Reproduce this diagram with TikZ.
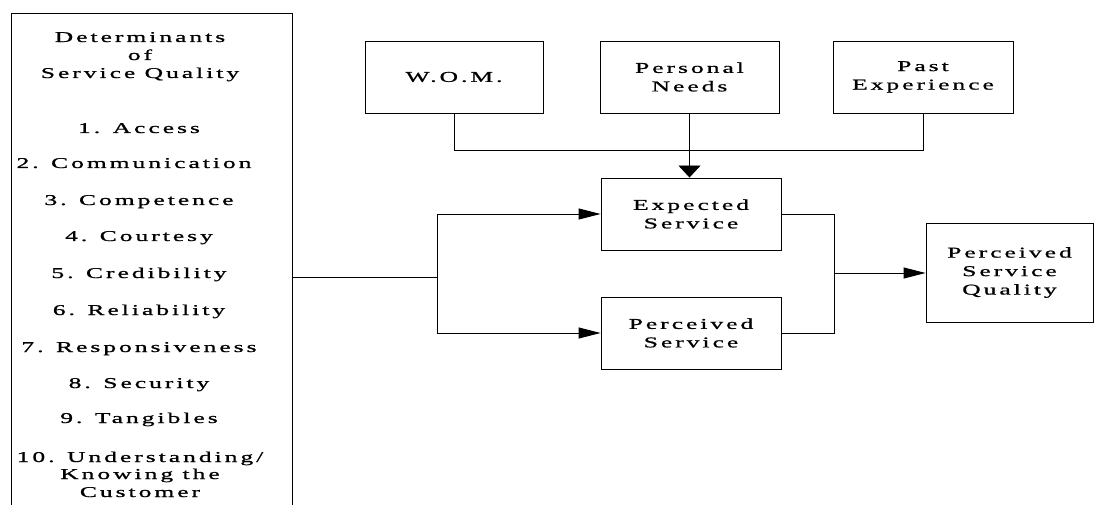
\documentclass[tikz,border=0pt]{standalone}
\usepackage{fontspec}
\setmainfont[FakeStretch=1.7,LetterSpace=20,FakeBold=1.0]{Liberation Serif}
\usetikzlibrary{arrows.meta}
\tikzset{
  box/.style={draw, line width=0.9pt, align=center, inner sep=0pt,
    font=\fontsize{15}{18.5}\selectfont},
  lbl/.style={anchor=base, inner sep=0pt, font=\fontsize{15}{18.5}\selectfont},
  con/.style={line width=0.9pt},
  harr/.style={line width=0.9pt, -{Triangle[length=22pt,width=11pt]}},
  varr/.style={line width=0.9pt, -{Triangle[length=12pt,width=22pt]}}
}
\begin{document}
\begin{tikzpicture}[x=1pt,y=-1pt]
\useasboundingbox (0,0) rectangle (1098,505);
\clip (0,0) rectangle (1098,505);
% left box
\node[draw, line width=0.9pt, minimum width=281pt, minimum height=507pt, inner sep=0pt] (det) at (151.5,266.5) {};
\node[lbl] (t1) at (140,42) {Determinants};
\node[lbl] (t2) at (140,60) {of};
\node[lbl] (t3) at (140,78) {Service Quality};
\node[lbl] (t4) at (139,133) {1. Access};
\node[lbl] (t5) at (134,168) {2. Communication};
\node[lbl] (t6) at (139,205) {3. Competence};
\node[lbl] (t7) at (139,241) {4. Courtesy};
\node[lbl] (t8) at (139,278) {5. Credibility};
\node[lbl] (t9) at (139,315) {6. Reliability};
\node[lbl] (t10) at (139,352) {7. Responsiveness};
\node[lbl] (t11) at (139,388) {8. Security};
\node[lbl] (t12) at (139,423) {9. Tangibles};
\node[lbl] (t13) at (140,462) {10. Understanding/};
\node[lbl] (t14) at (140,479) {Knowing the};
\node[lbl] (t15) at (140,497) {Customer};
% top boxes
\node[box, minimum width=178pt, minimum height=72pt] (wom) at (454,77) {W.O.M.};
\node[box, minimum width=179pt, minimum height=72pt] (pers) at (689.5,77) {Personal\\Needs};
\node[box, minimum width=180pt, minimum height=72pt] (past) at (923,77) {Past\\Experience};
% middle boxes
\node[box, minimum width=180pt, minimum height=72pt] (exp) at (691,214) {Expected\\Service};
\node[box, minimum width=180pt, minimum height=72pt] (perc) at (691,333) {Perceived\\Service};
\node[box, minimum width=167pt, minimum height=99pt] (psq) at (1009.5,272.5) {Perceived\\Service\\Quality};
% connectors
\coordinate (j1) at (454,150);
\coordinate (j2) at (923,150);
\draw[con] (wom.south) -- (j1) -- (j2) -- (past.south);
\draw[varr] (pers.south) -- (pers.south |- exp.north);
\coordinate (fork) at (437,277);
\draw[con] (det.east |- fork) -- (fork);
\coordinate (fu) at (437,214);
\coordinate (fd) at (437,333);
\draw[harr] (fd) -- (fu) -- (exp.west);
\draw[harr] (fu |- perc.west) -- (perc.west);
\coordinate (mu) at (834,214);
\coordinate (md) at (834,333);
\draw[con] (exp.east) -- (mu) -- (md) -- (perc.east);
\coordinate (mo) at (834,273);
\draw[harr] (mo) -- (mo -| psq.west);
\end{tikzpicture}
\end{document}
